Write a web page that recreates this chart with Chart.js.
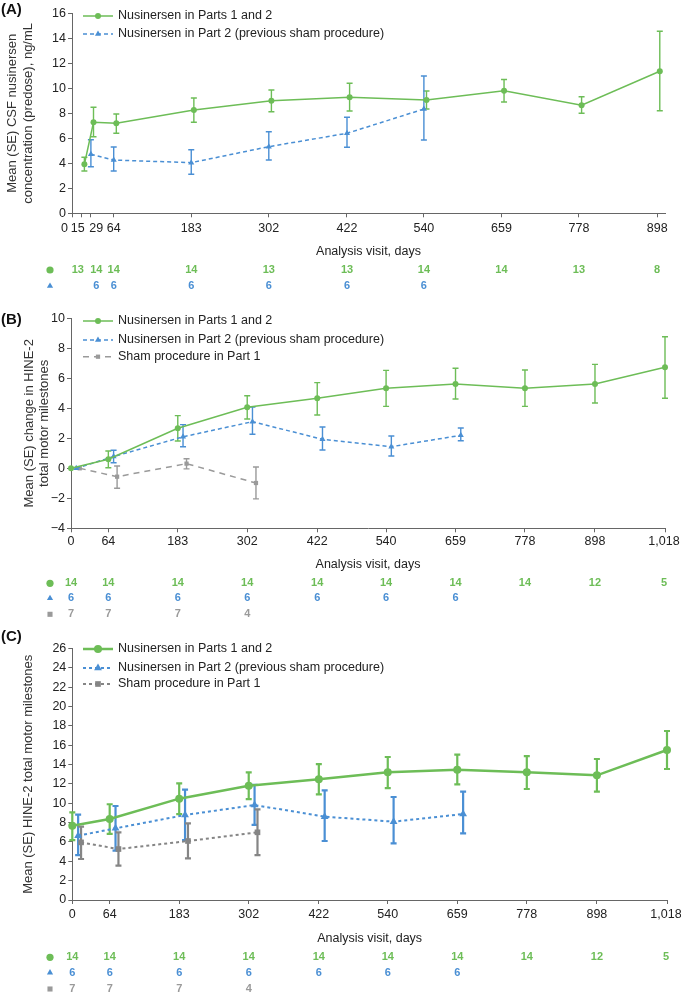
<!DOCTYPE html>
<html>
<head>
<meta charset="utf-8">
<script src="https://cdn.jsdelivr.net/npm/chart.js@4.4.1/dist/chart.umd.min.js"></script>
<style>
  html, body { margin: 0; padding: 0; background: #fff; }
  #wrap { position: relative; width: 681px; height: 995px; overflow: hidden; }
  canvas { position: absolute; left: 0; }
</style>
</head>
<body>
<div id="wrap">
  <canvas id="panelA" width="681" height="305" style="top:0px"></canvas>
  <canvas id="panelB" width="681" height="320" style="top:305px"></canvas>
  <canvas id="panelC" width="681" height="370" style="top:625px"></canvas>
</div>
<script>
// ---- panel A: CSF nusinersen concentration ----
const visitsA = [15, 29, 64, 183, 302, 422, 540, 659, 778, 898];
const csfBoth = [3.92, 7.28, 7.2, 8.26, 9.0, 9.28, 9.06, 9.81, 8.64, 11.36];
const csfBothLo = [3.38, 6.13, 6.4, 7.28, 8.13, 8.18, 8.34, 8.9, 8.0, 8.21];
const csfBothHi = [4.48, 8.48, 7.94, 9.22, 9.86, 10.4, 9.78, 10.7, 9.33, 14.56];
const visitsA2 = [29, 64, 183, 302, 422, 540];
const csfPart2 = [4.72, 4.26, 4.05, 5.33, 6.4, 8.34];
const csfPart2Lo = [3.73, 3.38, 3.12, 4.26, 5.28, 5.86];
const csfPart2Hi = [5.89, 5.3, 5.09, 6.53, 7.68, 10.98];
const nA_both = [13, 14, 14, 14, 13, 13, 14, 14, 13, 8];
const nA_part2 = [6, 6, 6, 6, 6, 6];
const ticksA = [0, 15, 29, 64, 183, 302, 422, 540, 659, 778, 898];

// ---- panels B and C: HINE-2 ----
const visitsBC = [0, 64, 183, 302, 422, 540, 659, 778, 898, 1018];
const visitsPart2 = [0, 64, 183, 302, 422, 540, 659];
const visitsSham = [0, 64, 183, 302];
const ticksBC = [0, 64, 183, 302, 422, 540, 659, 778, 898, 1018];

const chgBoth = [0, 0.6, 2.67, 4.07, 4.67, 5.33, 5.62, 5.33, 5.62, 6.73];
const chgBothLo = [null, 0.04, 1.82, 3.29, 3.55, 4.13, 4.62, 4.13, 4.35, 4.67];
const chgBothHi = [null, 1.15, 3.51, 4.84, 5.71, 6.53, 6.67, 6.55, 6.93, 8.77];
const chgPart2 = [0, 0.78, 2.1, 3.11, 1.93, 1.44, 2.2];
const chgPart2Lo = [null, 0.37, 1.44, 2.27, 1.22, 0.82, 1.84];
const chgPart2Hi = [null, 1.2, 2.91, 4.09, 2.75, 2.15, 2.69];
const chgSham = [0, -0.56, 0.31, -0.98];
const chgShamLo = [null, -1.33, -0.04, -2.04];
const chgShamHi = [null, 0.15, 0.64, 0.09];

const totBoth = [7.68, 8.38, 10.48, 11.82, 12.48, 13.2, 13.47, 13.2, 12.89, 15.51];
const totBothLo = [6.2, 6.83, 8.89, 10.44, 10.93, 11.58, 11.96, 11.48, 11.2, 13.55];
const totBothHi = [9.07, 9.9, 12.07, 13.2, 14.06, 14.79, 15.03, 14.89, 14.58, 17.48];
const totPart2 = [6.65, 7.41, 8.79, 9.82, 8.62, 8.1, 8.89];
const totPart2Lo = [4.65, 5.1, 6.2, 7.76, 6.1, 5.86, 6.9];
const totPart2Hi = [8.82, 9.72, 11.41, 11.9, 11.34, 10.65, 11.2];
const totSham = [5.96, 5.27, 6.1, 7.0];
const totShamLo = [4.24, 3.55, 4.31, 4.65];
const totShamHi = [7.58, 7.0, 7.93, 9.38];

const nBC_both = [14, 14, 14, 14, 14, 14, 14, 14, 12, 5];
const nBC_part2 = [6, 6, 6, 6, 6, 6, 6];
const nBC_sham = [7, 7, 7, 4];

const labelBoth = 'Nusinersen in Parts 1 and 2';
const labelPart2 = 'Nusinersen in Part 2 (previous sham procedure)';
const labelSham = 'Sham procedure in Part 1';

const GREEN = '#6dbd57';
const BLUE = '#4a8fd4';
const GREY = '#9a9a9a';
const GREY_C = '#858585';
const AXIS = '#666';
const FONT = "'Liberation Sans', Arial, sans-serif";

const drawPoint = Chart.helpers.drawPoint;

function series(label, days, vals, lo, hi, dodge, color, style) {
  return {
    label: label,
    data: days.map((d, i) => ({ x: d + dodge, y: vals[i] })),
    lo: lo, hi: hi,
    borderColor: color,
    backgroundColor: color,
    borderWidth: style.width,
    borderDash: style.dash || [],
    pointStyle: style.point,
    pointRadius: style.r,
    pointBorderWidth: 0,
    pointHoverRadius: style.r,
    tension: 0,
    clip: false,
    barWidth: style.bar
  };
}

const extras = {
  id: 'extras',
  beforeDatasetsDraw(chart) {
    const ctx = chart.ctx, y = chart.scales.y;
    chart.data.datasets.forEach((ds, i) => {
      const meta = chart.getDatasetMeta(i);
      ctx.save();
      ctx.strokeStyle = ds.borderColor;
      ctx.lineWidth = ds.barWidth;
      meta.data.forEach((pt, j) => {
        if (ds.lo[j] == null) return;
        const top = y.getPixelForValue(ds.hi[j]);
        const bot = y.getPixelForValue(ds.lo[j]);
        ctx.beginPath();
        ctx.moveTo(pt.x, top); ctx.lineTo(pt.x, bot);
        ctx.moveTo(pt.x - 3, top); ctx.lineTo(pt.x + 3, top);
        ctx.moveTo(pt.x - 3, bot); ctx.lineTo(pt.x + 3, bot);
        ctx.stroke();
      });
      ctx.restore();
    });
  },
  afterDraw(chart, args, o) {
    const ctx = chart.ctx, area = chart.chartArea, x = chart.scales.x;
    ctx.save();

    // panel letter
    ctx.fillStyle = '#111';
    ctx.font = 'bold 15px ' + FONT;
    ctx.textAlign = 'left';
    ctx.textBaseline = 'middle';
    ctx.fillText(o.panel, 1, o.panelY);

    // y title
    ctx.font = '13px ' + FONT;
    ctx.fillStyle = '#333';
    ctx.textAlign = 'center';
    o.yTitle.forEach((t, i) => {
      ctx.save();
      ctx.translate(o.yTitleX[i], (area.top + area.bottom) / 2);
      ctx.rotate(-Math.PI / 2);
      ctx.fillText(t, 0, 0);
      ctx.restore();
    });

    // legend
    chart.data.datasets.forEach((ds, i) => {
      const ly = area.top + o.legendY[i];
      ctx.save();
      ctx.strokeStyle = ds.borderColor;
      ctx.fillStyle = ds.borderColor;
      ctx.lineWidth = ds.borderWidth;
      ctx.setLineDash(ds.borderDash);
      ctx.beginPath();
      ctx.moveTo(83, ly); ctx.lineTo(113, ly);
      ctx.stroke();
      ctx.setLineDash([]);
      drawPoint(ctx, { pointStyle: ds.pointStyle, radius: ds.pointRadius, rotation: 0, borderWidth: 0 }, 98, ly);
      ctx.restore();
      ctx.fillStyle = '#222';
      ctx.font = '12.5px ' + FONT;
      ctx.textAlign = 'left';
      ctx.fillText(ds.label, 118, ly);
    });

    // x tick labels
    const colX = d => x.getPixelForValue(d) + (o.nudge[d] || 0);
    ctx.fillStyle = '#222';
    ctx.font = '12.5px ' + FONT;
    ctx.textAlign = 'center';
    o.ticks.forEach(d => {
      ctx.fillText(d.toLocaleString('en-US'), colX(d), area.bottom + o.tickGap);
    });

    // x title
    ctx.fillText('Analysis visit, days', (area.left + area.right) / 2, area.bottom + o.titleGap);

    // numbers at risk
    o.rows.forEach((row, i) => {
      const ry = area.bottom + o.rowY[i];
      ctx.fillStyle = row.color;
      drawPoint(ctx, { pointStyle: row.point, radius: 3.6, rotation: 0, borderWidth: 0 }, 50, ry);
      ctx.font = 'bold 11px ' + FONT;
      row.days.forEach((d, j) => ctx.fillText(String(row.n[j]), colX(d), ry));
    });
    ctx.restore();
  }
};

function makePanel(id, p) {
  const H = document.getElementById(id).height;
  return new Chart(document.getElementById(id), {
    type: 'line',
    data: { datasets: p.datasets },
    plugins: [extras],
    options: {
      responsive: false,
      animation: false,
      devicePixelRatio: 1,
      layout: { padding: { left: 0, right: 681 - p.right, top: p.top, bottom: 0 } },
      plugins: {
        legend: { display: false },
        tooltip: { enabled: false },
        extras: p.extras
      },
      scales: {
        x: {
          type: 'linear',
          min: 0,
          max: p.xMax,
          afterBuildTicks: s => { s.ticks = p.extras.ticks.map(v => ({ value: v })); },
          afterFit: s => { s.height = H - p.bottom; },
          ticks: { display: false },
          grid: { drawOnChartArea: false, drawTicks: true, tickLength: 4, color: AXIS },
          border: { display: true, color: AXIS, width: 1 }
        },
        y: {
          min: p.yMin,
          max: p.yMax,
          afterFit: s => { s.width = p.left; },
          ticks: {
            stepSize: 2,
            padding: 2,
            color: '#222',
            font: { family: FONT, size: 12.5 },
            callback: v => String(v).replace('-', '\u2212')
          },
          grid: { drawOnChartArea: false, drawTicks: true, tickLength: 4, color: AXIS },
          border: { display: true, color: AXIS, width: 1 }
        }
      }
    }
  });
}

const thin = { width: 1.5, r: 3, bar: 1.4 };

makePanel('panelA', {
  left: 72, right: 665, top: 13.3, bottom: 213.3, xMax: 910, yMin: 0, yMax: 16,
  datasets: [
    series(labelBoth, visitsA, csfBoth, csfBothLo, csfBothHi, 4, GREEN, { ...thin, point: 'circle' }),
    series(labelPart2, visitsA2, csfPart2, csfPart2Lo, csfPart2Hi, 0, BLUE, { ...thin, r: 3.5, dash: [4, 3], point: 'triangle' })
  ],
  extras: {
    panel: '(A)', panelY: 10,
    yTitle: ['Mean (SE) CSF nusinersen', 'concentration (predose), ng/mL'], yTitleX: [12, 28],
    legendY: [2.7, 20.7],
    ticks: ticksA, nudge: { 0: -7.5, 15: -4, 29: 5.4 },
    tickGap: 15, titleGap: 38.4, rowY: [56.7, 72.7],
    rows: [
      { point: 'circle', color: GREEN, days: visitsA, n: nA_both },
      { point: 'triangle', color: BLUE, days: visitsA2, n: nA_part2 }
    ]
  }
});

makePanel('panelB', {
  left: 71, right: 665, top: 13.3, bottom: 223.3, xMax: 1018, yMin: -4, yMax: 10,
  datasets: [
    series(labelBoth, visitsBC, chgBoth, chgBothLo, chgBothHi, 0, GREEN, { ...thin, point: 'circle' }),
    series(labelPart2, visitsPart2, chgPart2, chgPart2Lo, chgPart2Hi, 9, BLUE, { ...thin, r: 3.5, dash: [4, 3], point: 'triangle' }),
    series(labelSham, visitsSham, chgSham, chgShamLo, chgShamHi, 15, GREY, { ...thin, dash: [6, 5], point: 'rect' })
  ],
  extras: {
    panel: '(B)', panelY: 15,
    yTitle: ['Mean (SE) change in HINE-2', 'total motor milestones'], yTitleX: [29, 44],
    legendY: [2.7, 21.7, 38.4],
    ticks: ticksBC, nudge: { 1018: -1 },
    tickGap: 13.4, titleGap: 36.7, rowY: [55, 70, 86],
    rows: [
      { point: 'circle', color: GREEN, days: visitsBC, n: nBC_both },
      { point: 'triangle', color: BLUE, days: visitsPart2, n: nBC_part2 },
      { point: 'rect', color: GREY, days: visitsSham, n: nBC_sham }
    ]
  }
});

const thick = { width: 2.5, r: 4, bar: 2.2 };

makePanel('panelC', {
  left: 72.3, right: 667, top: 23.6, bottom: 275, xMax: 1018, yMin: 0, yMax: 26,
  datasets: [
    series(labelBoth, visitsBC, totBoth, totBothLo, totBothHi, 0, GREEN, { ...thick, point: 'circle' }),
    series(labelPart2, visitsPart2, totPart2, totPart2Lo, totPart2Hi, 10, BLUE, { ...thick, width: 2, r: 4.5, dash: [3, 3], point: 'triangle' }),
    series(labelSham, visitsSham, totSham, totShamLo, totShamHi, 15, GREY_C, { ...thick, width: 2, r: 4, dash: [3, 3], point: 'rect' })
  ],
  extras: {
    panel: '(C)', panelY: 12,
    yTitle: ['Mean (SE) HINE-2 total motor milestones'], yTitleX: [28],
    legendY: [0.4, 19.4, 35.4],
    ticks: ticksBC, nudge: { 1018: -1 },
    tickGap: 15, titleGap: 38.3, rowY: [57.3, 72.7, 89],
    rows: [
      { point: 'circle', color: GREEN, days: visitsBC, n: nBC_both },
      { point: 'triangle', color: BLUE, days: visitsPart2, n: nBC_part2 },
      { point: 'rect', color: GREY, days: visitsSham, n: nBC_sham }
    ]
  }
});
</script>
</body>
</html>
